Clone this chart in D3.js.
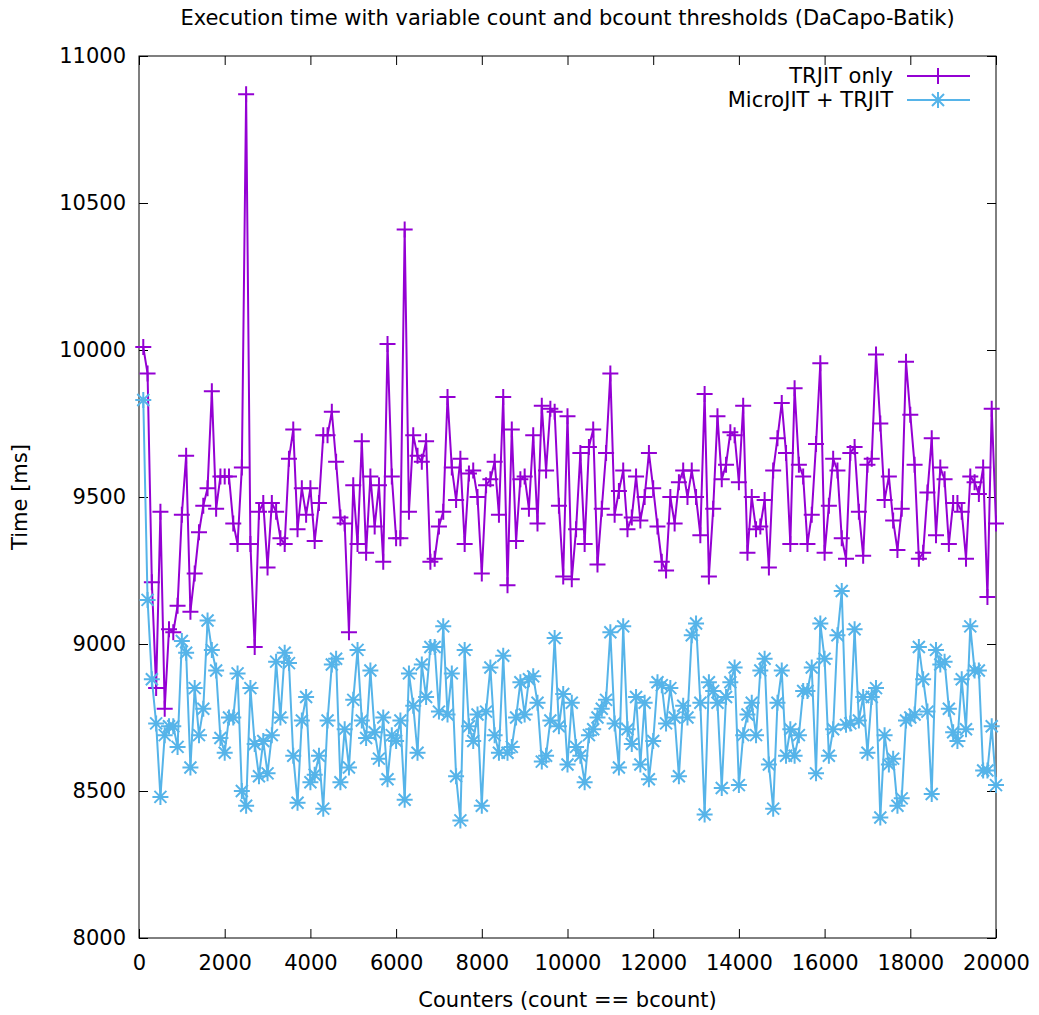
<!DOCTYPE html>
<html lang="en">
<head>
<meta charset="utf-8">
<title>DaCapo-Batik</title>
<style>
  body { margin: 0; background: #fff; }
  svg text { font-family: "DejaVu Sans", sans-serif; fill: #000; }
</style>
</head>
<body>
<div id="chart"></div>
<script src="https://d3js.org/d3.v7.min.js"></script>
<script>
// thresholds used for count and bcount (100 .. 20000, step 100)
var counters = d3.range(100, 20001, 100);

var trjitOnly = [
  10010, 9920, 9210, 8850, 9450, 8780, 9050, 9040, 9130, 9440,
  9640, 9110, 9240, 9380, 9470, 9530, 9860, 9460, 9570, 9570,
  9570, 9410, 9340, 9600, 10870, 9340, 8990, 9450, 9480, 9260,
  9480, 9450, 9360, 9340, 9630, 9730, 9390, 9530, 9440, 9530,
  9350, 9480, 9710, 9710, 9790, 9620, 9430, 9410, 9040, 9540,
  9340, 9690, 9310, 9570, 9400, 9540, 9280, 10020, 9570, 9360,
  9360, 10410, 9450, 9710, 9640, 9620, 9690, 9280, 9290, 9400,
  9450, 9840, 9600, 9490, 9630, 9340, 9580, 9590, 9500, 9240,
  9540, 9560, 9620, 9440, 9840, 9200, 9730, 9350, 9560, 9570,
  9460, 9710, 9410, 9810, 9590, 9800, 9790, 9470, 9230, 9775,
  9220, 9390, 9650, 9340, 9670, 9730, 9270, 9460, 9650, 9920,
  9440, 9520, 9590, 9390, 9430, 9570, 9420, 9500, 9650, 9530,
  9400, 9280, 9250, 9500, 9410, 9550, 9590, 9500, 9590, 9500,
  9370, 9850, 9230, 9460, 9775, 9560, 9610, 9720, 9710, 9550,
  9810, 9310, 9500, 9390, 9400, 9490, 9260, 9590, 9700, 9820,
  9650, 9340, 9870, 9610, 9570, 9340, 9440, 9680, 9955, 9310,
  9470, 9630, 9590, 9360, 9290, 9650, 9670, 9450, 9300, 9610,
  9630, 9985, 9750, 9490, 9570, 9420, 9320, 9460, 9960, 9780,
  9610, 9290, 9310, 9515, 9700, 9370, 9600, 9560, 9340, 9480,
  9480, 9450, 9290, 9570, 9550, 9510, 9600, 9160, 9800, 9410
];

var microPlusTrjit = [
  9830, 9150, 8880, 8730, 8480, 8690, 8720, 8720, 8650, 9010,
  8970, 8580, 8850, 8690, 8780, 9080, 8980, 8910, 8680, 8630,
  8750, 8750, 8900, 8500, 8450, 8850, 8660, 8550, 8670, 8560,
  8690, 8940, 8750, 8970, 8935, 8620, 8460, 8740, 8820, 8530,
  8555, 8620, 8440, 8740, 8930, 8950, 8530, 8710, 8580, 8810,
  8980, 8740, 8680, 8910, 8700, 8610, 8750, 8540, 8690, 8670,
  8740, 8470, 8900, 8790, 8630, 8930, 8820, 8990, 8990, 8770,
  9060, 8760, 8900, 8550, 8400, 8980, 8720, 8670, 8760, 8450,
  8770, 8920, 8690, 8630, 8960, 8630, 8650, 8750, 8870, 8760,
  8880, 8890, 8800, 8600, 8620, 8740, 9020, 8720, 8830, 8590,
  8800, 8650, 8620, 8530, 8690, 8710, 8750, 8780, 8810, 9040,
  8730, 8580, 9060, 8710, 8660, 8820, 8590, 8800, 8540, 8670,
  8870, 8860, 8730, 8850, 8750, 8550, 8790, 8750, 9030, 9070,
  8800, 8420, 8870, 8840, 8800, 8510, 8820, 8870, 8920, 8520,
  8690, 8760, 8800, 8690, 8910, 8950, 8590, 8440, 8800, 8910,
  8620, 8710, 8620, 8690, 8840, 8840, 8920, 8560, 9070, 8950,
  8620, 8710, 9030, 9180, 8725, 8730, 9050, 8740, 8820, 8630,
  8820, 8850, 8410, 8690, 8590, 8610, 8450, 8475, 8740, 8750,
  8760, 8990, 8880, 8770, 8490, 8980, 8930, 8940, 8780, 8700,
  8670, 8880, 8710, 9060, 8910, 8910, 8570, 8570, 8720, 8520
];

var seriesNames = ["TRJIT only", "MicroJIT + TRJIT"];
var seriesColors = ["#9400d3", "#56b4e9"];
var xTickValues = [0, 2000, 4000, 6000, 8000, 10000, 12000, 14000, 16000, 18000, 20000];
var yTickValues = [8000, 8500, 9000, 9500, 10000, 10500, 11000];

var w = 1039, h = 1015;
var margin = {left: 139, right: 43, top: 56, bottom: 77};
var fs = "21px";

var svg = d3.select("#chart").append("svg")
  .attr("width", w).attr("height", h);

var x = d3.scaleLinear().domain([0, 20000]).range([margin.left, w - margin.right]);
var y = d3.scaleLinear().domain([8000, 11000]).range([h - margin.bottom, margin.top]);

// title
svg.append("text")
  .attr("x", (margin.left + w - margin.right) / 2).attr("y", 25)
  .attr("text-anchor", "middle").style("font-size", fs)
  .text("Execution time with variable count and bcount thresholds (DaCapo-Batik)");

// axes, ticks pointing inward like gnuplot
var tk = 9;
svg.append("g").attr("transform", "translate(0," + y.range()[0] + ")")
  .call(d3.axisBottom(x).tickValues(xTickValues).tickFormat(d3.format("d"))
    .tickSizeInner(-tk).tickSizeOuter(0).tickPadding(17))
  .call(g => g.select(".domain").remove());
svg.append("g").attr("transform", "translate(0," + margin.top + ")")
  .call(d3.axisTop(x).tickValues(xTickValues).tickSizeInner(-tk).tickSizeOuter(0).tickFormat(""))
  .call(g => g.select(".domain").remove());
svg.append("g").attr("transform", "translate(" + margin.left + ",0)")
  .call(d3.axisLeft(y).tickValues(yTickValues).tickFormat(d3.format("d"))
    .tickSizeInner(-tk).tickSizeOuter(0).tickPadding(13))
  .call(g => g.select(".domain").remove());
svg.append("g").attr("transform", "translate(" + x.range()[1] + ",0)")
  .call(d3.axisRight(y).tickValues(yTickValues).tickSizeInner(-tk).tickSizeOuter(0).tickFormat(""))
  .call(g => g.select(".domain").remove());

svg.selectAll(".tick text").style("font-size", fs).style("font-family", "DejaVu Sans, sans-serif");
svg.selectAll(".tick line").attr("stroke", "#000");

svg.append("rect")
  .attr("x", margin.left).attr("y", margin.top)
  .attr("width", x.range()[1] - margin.left).attr("height", y.range()[0] - margin.top)
  .attr("fill", "none").attr("stroke", "#000").attr("stroke-width", 1);

// axis labels
svg.append("text")
  .attr("x", (margin.left + w - margin.right) / 2).attr("y", 1007)
  .attr("text-anchor", "middle").style("font-size", fs)
  .text("Counters (count == bcount)");
svg.append("text")
  .attr("transform", "translate(27," + (margin.top + y.range()[0]) / 2 + ") rotate(-90)")
  .attr("text-anchor", "middle").style("font-size", fs)
  .text("Time [ms]");

var plusPath = "M-8,0H8M0,-8V8";
var starPath = "M-8,0H8M0,-8V8M-6,-6L6,6M-6,6L6,-6";
var markers = [plusPath, starPath];
var allSeries = [trjitOnly, microPlusTrjit];

var line = d3.line().x((d, i) => x(counters[i])).y(d => y(d));

allSeries.forEach(function(vals, s) {
  var g = svg.append("g");
  g.append("path").datum(vals)
    .attr("d", line).attr("fill", "none")
    .attr("stroke", seriesColors[s]).attr("stroke-width", 2);
  g.selectAll("path.mk").data(vals).enter().append("path")
    .attr("class", "mk")
    .attr("d", markers[s])
    .attr("transform", (d, i) => "translate(" + x(counters[i]) + "," + y(d) + ")")
    .attr("stroke", seriesColors[s]).attr("stroke-width", 2).attr("fill", "none");
});

// legend
seriesNames.forEach(function(name, s) {
  var ly = 76 + s * 24;
  svg.append("text").attr("x", 893).attr("y", ly).attr("dy", "0.35em")
    .attr("text-anchor", "end").style("font-size", fs).text(name);
  svg.append("line").attr("x1", 907).attr("x2", 970).attr("y1", ly).attr("y2", ly)
    .attr("stroke", seriesColors[s]).attr("stroke-width", 2);
  svg.append("path").attr("d", markers[s])
    .attr("transform", "translate(938," + ly + ")")
    .attr("stroke", seriesColors[s]).attr("stroke-width", 2).attr("fill", "none");
});
</script>
</body>
</html>
